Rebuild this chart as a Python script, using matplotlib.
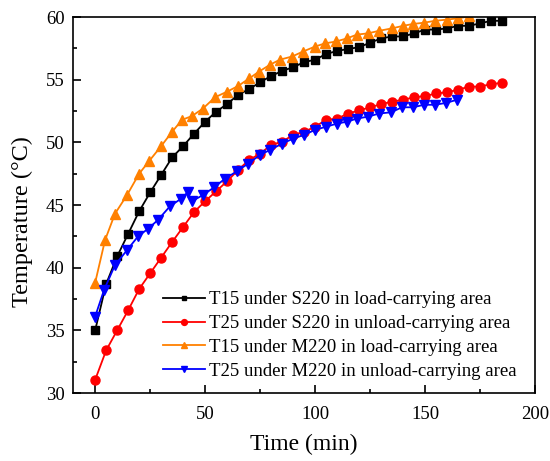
import matplotlib

matplotlib.use("Agg")
import matplotlib.pyplot as plt
from matplotlib.ticker import MultipleLocator

plt.rcParams.update(
    {
        "font.family": ["Liberation Serif", "DejaVu Serif"],
        "axes.linewidth": 1.2,
        "xtick.labelsize": 13.5,
        "ytick.labelsize": 13.5,
        "figure.facecolor": "white",
        "savefig.facecolor": "white",
    }
)

# temperature logs, time in minutes
t_s220_load = list(range(0, 186, 5))
temp_s220_load = [
    35.0, 38.7, 40.9, 42.7, 44.5, 46.0, 47.4, 48.8, 49.7, 50.7,
    51.65, 52.45, 53.06, 53.8, 54.25, 54.8, 55.3, 55.7, 56.0, 56.4,
    56.6, 57.05, 57.3, 57.45, 57.6, 57.95, 58.3, 58.45, 58.45, 58.7,
    59.0, 59.0, 59.1, 59.3, 59.3, 59.5, 59.7, 59.7,
]

t_s220_unload = list(range(0, 186, 5))
temp_s220_unload = [
    31.05, 33.4, 35.0, 36.6, 38.3, 39.55, 40.8, 42.05, 43.25, 44.45,
    45.3, 46.1, 46.9, 47.8, 48.6, 49.1, 49.8, 50.05, 50.6, 50.85,
    51.25, 51.8, 51.9, 52.3, 52.55, 52.8, 53.05, 53.25, 53.4, 53.6,
    53.7, 53.9, 54.0, 54.2, 54.45, 54.45, 54.65, 54.75,
]

t_m220_load = [
    0, 4.5, 9, 14.5, 20, 24.5, 30, 35, 39.5, 44, 49, 54.5, 60, 65, 70,
    74.5, 79.5, 84, 89.5, 94.5, 100, 104.5, 109.5, 114.5, 119, 124, 129,
    135, 140, 144.5, 149.5, 154.5, 160, 165, 170,
]
temp_m220_load = [
    38.8, 42.2, 44.3, 45.8, 47.5, 48.5, 49.7, 50.85, 51.8, 52.1, 52.7,
    53.6, 54.05, 54.5, 55.1, 55.65, 56.2, 56.6, 56.85, 57.25, 57.65,
    57.9, 58.05, 58.3, 58.6, 58.7, 58.9, 59.1, 59.3, 59.45, 59.55, 59.7,
    59.8, 59.9, 60.05,
]

t_m220_unload = [
    0, 4, 9, 14.5, 19.5, 24, 28.5, 34, 39, 42, 44, 49, 54, 59, 64.5,
    69.5, 75, 79.5, 85, 90, 95, 100, 105, 110, 114.5, 119, 124, 129,
    134.5, 139.5, 144.5, 149.5, 154.5, 159.5, 164.5,
]
temp_m220_unload = [
    36.1, 38.2, 40.2, 41.4, 42.5, 43.1, 43.8, 44.9, 45.5, 46.0, 45.3,
    45.8, 46.4, 47.1, 47.7, 48.3, 49.0, 49.4, 49.9, 50.3, 50.6, 51.0,
    51.25, 51.5, 51.65, 51.9, 52.05, 52.3, 52.4, 52.8, 52.8, 53.0, 53.0,
    53.15, 53.4,
]

labels = [
    "T15 under S220 in load-carrying area",
    "T25 under S220 in unload-carrying area",
    "T15 under M220 in load-carrying area",
    "T25 under M220 in unload-carrying area",
]

fig = plt.figure(figsize=(5.5, 4.61), dpi=100)
ax = fig.add_axes([0.133, 0.1475, 0.84, 0.8155])

ax.plot(t_s220_load, temp_s220_load, color="black", marker="s", markersize=5.3,
        linewidth=1.3, label=labels[0])
ax.plot(t_s220_unload, temp_s220_unload, color="#ff0000", marker="o", markersize=6.5,
        linewidth=1.3, label=labels[1])
ax.plot(t_m220_load, temp_m220_load, color="#ff8000", marker="^", markersize=6.5,
        linewidth=1.3, label=labels[2])
ax.plot(t_m220_unload, temp_m220_unload, color="#0000ff", marker="v", markersize=6.5,
        linewidth=1.3, label=labels[3])

ax.set_xlim(-10, 200)
ax.set_ylim(30, 60)
ax.xaxis.set_major_locator(MultipleLocator(50))
ax.xaxis.set_minor_locator(MultipleLocator(25))
ax.yaxis.set_major_locator(MultipleLocator(5))
ax.yaxis.set_minor_locator(MultipleLocator(2.5))
ax.tick_params(which="both", direction="in", top=False, right=False, width=1.2)
ax.tick_params(which="major", length=6, pad=6)
ax.tick_params(axis="x", which="major", pad=9)
ax.tick_params(which="minor", length=3)

ax.set_xlabel("Time (min)", fontsize=17, labelpad=8)
ax.set_ylabel("Temperature (°C)", fontsize=17.5)
ax.yaxis.set_label_coords(-0.087, 0.455)

ax.legend(loc="lower left", frameon=False, fontsize=13.5, handlelength=2.25,
          handletextpad=0.2, labelspacing=0.36, markerscale=0.65,
          borderpad=0, borderaxespad=0, bbox_to_anchor=(0.195, 0.035))

fig.savefig("out.png", dpi=100)
